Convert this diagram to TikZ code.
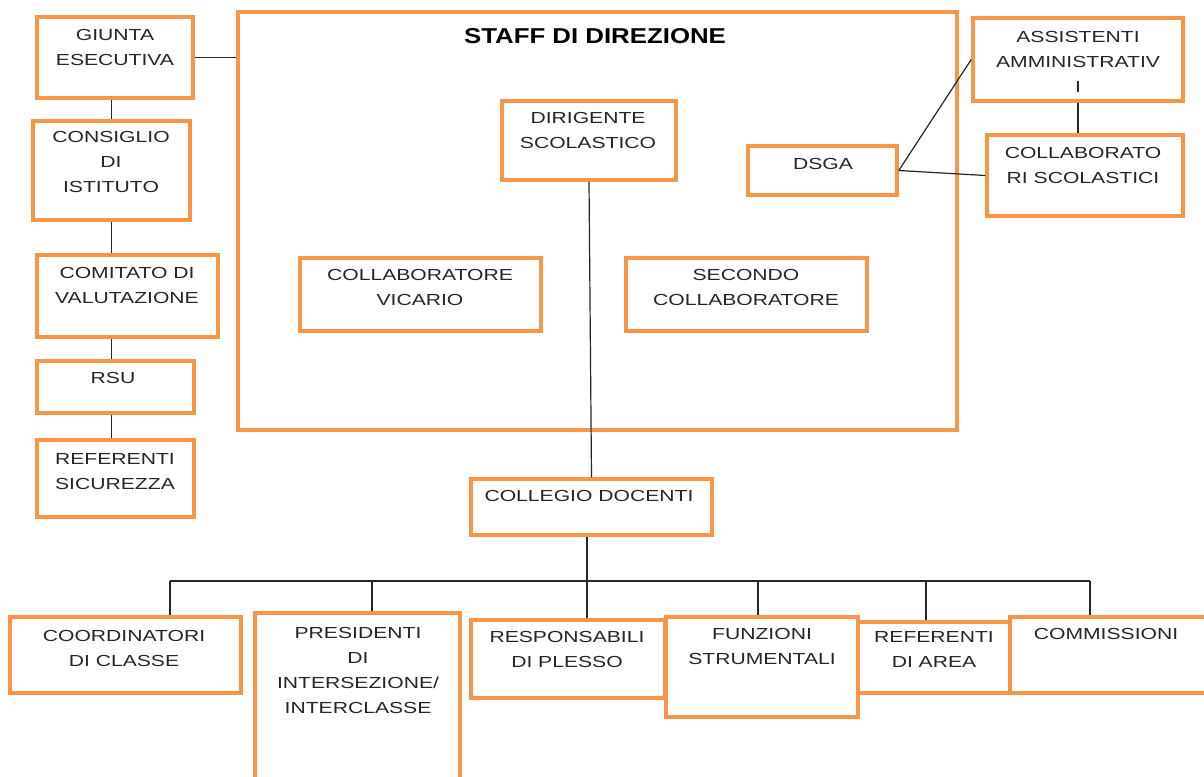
\documentclass[tikz,border=0pt]{standalone}
\usepackage{fontspec}
\setmainfont{Liberation Sans}[FakeStretch=1.32]
\newfontfamily\titlefont{Liberation Sans}[FakeStretch=1.2]
\usetikzlibrary{fit}
\definecolor{boxorange}{HTML}{F79646}
\tikzset{
  x=1pt, y=-1pt,
  obox/.style={draw=boxorange, line width=3.5pt, inner sep=0pt, fill=white},
  lbl/.style={font=\fontsize{16}{25}\selectfont, align=center, inner sep=0pt, anchor=north, text=black!85},
  ttl/.style={font=\titlefont\fontsize{21.5}{26}\selectfont\bfseries, inner sep=0pt, anchor=north},
  conn/.style={draw=black!85, line width=1.2pt}
}
\begin{document}
\begin{tikzpicture}
\useasboundingbox (0,0) rectangle (1204,776);
\clip (0,0) rectangle (1204,776);
\fill[white] (0,0) rectangle (1204,776);

% staff frame
\node[obox, fit={(238,12) (957,430)}] (staff) {};
\node[ttl] (stafft) at (595,28) {STAFF DI DIREZIONE};

% left column
\node[obox, fit={(37,17) (193,98)}] (giunta) {};
\node[lbl] (giuntat) at (115,29) {GIUNTA\\ESECUTIVA};
\node[obox, fit={(33,121) (190,220)}] (consiglio) {};
\node[lbl] (consigliot) at (111,131) {CONSIGLIO\\DI\\ISTITUTO};
\node[obox, fit={(37,255) (218,337)}] (comitato) {};
\node[lbl] (comitatot) at (127,267) {COMITATO DI\\VALUTAZIONE};
\node[obox, fit={(37,361) (194,413)}] (rsu) {};
\node[lbl] (rsut) at (113,372) {RSU};
\node[obox, fit={(37,440) (194,517)}] (sicur) {};
\node[lbl] (sicurt) at (115,453) {REFERENTI\\SICUREZZA};

% inside staff
\node[obox, fit={(502,101) (676,180)}] (dirigente) {};
\node[lbl] (dirigentet) at (588,112) {DIRIGENTE\\SCOLASTICO};
\node[obox, fit={(748,146) (897,195)}] (dsga) {};
\node[lbl] (dsgat) at (823,158) {DSGA};
\node[obox, fit={(300,258) (541,331)}] (vicario) {};
\node[lbl] (vicariot) at (420,269) {COLLABORATORE\\VICARIO};
\node[obox, fit={(626,258) (867,331)}] (secondo) {};
\node[lbl] (secondot) at (746,269) {SECONDO\\COLLABORATORE};

% right column
\node[obox, fit={(973,18) (1183,101)}] (assist) {};
\node[lbl] (assistt) at (1078,31) {ASSISTENTI\\AMMINISTRATIV\\I};
\node[obox, fit={(987,135) (1183,216)}] (collscol) {};
\node[lbl] (collscolt) at (1083,147) {COLLABORATO\\RI SCOLASTICI};

% collegio
\node[obox, fit={(471,479) (712,535)}] (collegio) {};
\node[lbl] (collegiot) at (589,490) {COLLEGIO DOCENTI};

% bottom row
\node[obox, fit={(10,617) (241,693)}] (coord) {};
\node[lbl] (coordt) at (124,630) {COORDINATORI\\DI CLASSE};
\node[obox, fit={(255,613) (460,800)}] (pres) {};
\node[lbl] (prest) at (358,627) {PRESIDENTI\\DI\\INTERSEZIONE/\\INTERCLASSE};
\node[obox, fit={(471,620) (665,698)}] (resp) {};
\node[lbl] (respt) at (567,631) {RESPONSABILI\\DI PLESSO};
\node[obox, fit={(666,617) (858,717)}] (funz) {};
\node[lbl] (funzt) at (762,628) {FUNZIONI\\STRUMENTALI};
\node[obox, fit={(858,622) (1010,693)}] (refarea) {};
\node[lbl] (refareat) at (934,631) {REFERENTI\\DI AREA};
\node[obox, fit={(1010,617) (1215,693)}] (comm) {};
\node[lbl] (commt) at (1106,628) {COMMISSIONI};

% connectors left
\draw[conn] (giunta.east) -- (giunta.east -| staff.west);
\draw[conn] (consiglio.north) -- (consiglio.north |- giunta.south);
\draw[conn] (consiglio.south) -- (consiglio.south |- comitato.north);
\draw[conn] (comitato.south -| consiglio.south) -- (consiglio.south |- rsu.north);
\draw[conn] (rsu.south -| consiglio.south) -- (consiglio.south |- sicur.north);

% right
\draw[conn] (dsga.east) -- (assist.west);
\draw[conn] (dsga.east) -- (collscol.west);
\draw[conn] (assist.south) -- (assist.south |- collscol.north);

% dirigente to collegio
\draw[conn] (dirigente.south) -- (collegio.north);

% bus
\coordinate (bus) at (587,581);
\coordinate (d1) at (170,581);
\coordinate (d2) at (372,581);
\coordinate (d3) at (587,581);
\coordinate (d4) at (758,581);
\coordinate (d5) at (926,581);
\coordinate (d6) at (1090,581);
\draw[conn] (collegio.south -| bus) -- (bus);
\draw[conn] (d1) -- (d6);
\draw[conn] (d1) -- (d1 |- coord.north);
\draw[conn] (d2) -- (d2 |- pres.north);
\draw[conn] (d3) -- (d3 |- resp.north);
\draw[conn] (d4) -- (d4 |- funz.north);
\draw[conn] (d5) -- (d5 |- refarea.north);
\draw[conn] (d6) -- (d6 |- comm.north);
\end{tikzpicture}
\end{document}
